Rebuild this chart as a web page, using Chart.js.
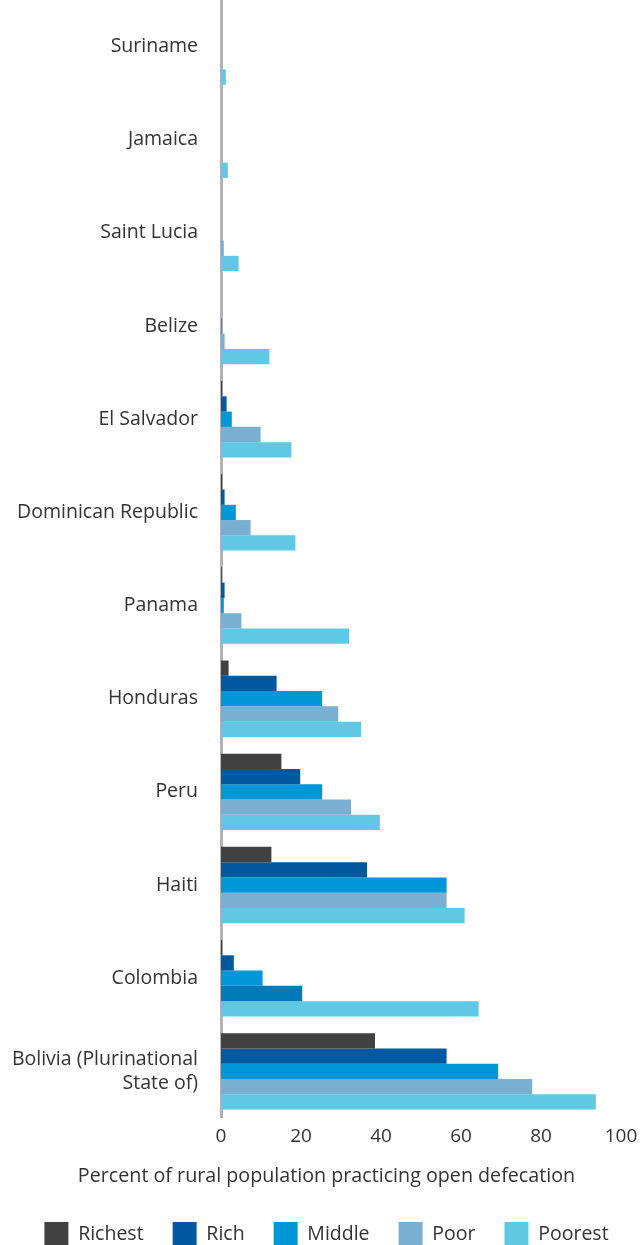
<!DOCTYPE html>
<html>
<head>
<meta charset="utf-8">
<script src="https://cdn.jsdelivr.net/npm/chart.js@4/dist/chart.umd.min.js"></script>
<style>
  html, body { margin: 0; padding: 0; background: #fff; }
  #wrap { width: 643px; height: 1245px; position: relative; }
</style>
</head>
<body>
<div id="wrap"><canvas id="myChart"></canvas></div>
<script>
// countries, top to bottom
var countries = ['Suriname', 'Jamaica', 'Saint Lucia', 'Belize', 'El Salvador', 'Dominican Republic',
    'Panama', 'Honduras', 'Peru', 'Haiti', 'Colombia', ['Bolivia (Plurinational', 'State of)']];

// percent of rural population practicing open defecation, by wealth quintile
var richest = [0, 0, 0, 0, 0.3, 0.3, 0.2, 1.9, 15.1, 12.6, 0.3, 38.5];
var rich    = [0, 0, 0, 0, 1.4, 0.9, 0.9, 13.9, 19.8, 36.5, 3.2, 56.4];
var middle  = [0, 0, 0, 0.2, 2.7, 3.7, 0.7, 25.3, 25.3, 56.4, 10.4, 69.3];
var poor    = [0, 0, 0.7, 0.9, 9.9, 7.4, 5.1, 29.3, 32.5, 56.4, 20.3, 77.8];
var poorest = [1.2, 1.7, 4.4, 12.1, 17.6, 18.6, 32.0, 35.0, 39.7, 60.9, 64.4, 93.7];

var xTicks = [0, 20, 40, 60, 80, 100];

var font = "'Open Sans', sans-serif";
var textColor = '#333333';

// the Colombia "Poor" bar is a darker blue in the original
var poorColors = countries.map(function (c) { return c === 'Colombia' ? '#007bb8' : '#7aafd4'; });

var ctx = document.getElementById('myChart').getContext('2d');
var myChart = new Chart(ctx, {
    type: 'bar',
    data: {
        labels: countries,
        datasets: [
            { label: 'Richest', data: richest, backgroundColor: '#414141' },
            { label: 'Rich', data: rich, backgroundColor: '#00599f' },
            { label: 'Middle', data: middle, backgroundColor: '#0096d7' },
            { label: 'Poor', data: poor, backgroundColor: poorColors },
            { label: 'Poorest', data: poorest, backgroundColor: '#5fc8e3' }
        ]
    },
    options: {
        indexAxis: 'y',
        responsive: true,
        maintainAspectRatio: false,
        animation: false,
        datasets: {
            bar: { categoryPercentage: 0.82, barPercentage: 1.0 }
        },
        layout: { padding: { top: 0, right: 0, bottom: -11, left: 10 } },
        plugins: {
            tooltip: { enabled: false },
            title: {
                display: true,
                position: 'bottom',
                text: 'Percent of rural population practicing open defecation',
                color: textColor,
                font: { family: font, size: 19.7, weight: 'normal' },
                padding: { top: 9.9, bottom: 4.7 }
            },
            legend: {
                position: 'bottom',
                weight: 3000,
                labels: {
                    boxWidth: 24,
                    boxHeight: 24,
                    padding: 29,
                    color: textColor,
                    font: { family: font, size: 19.5 },
                    generateLabels: function (chart) {
                        var items = Chart.defaults.plugins.legend.labels.generateLabels(chart);
                        items.forEach(function (it) {
                            if (it.text === 'Poor') it.fillStyle = '#7aafd4';
                            it.strokeStyle = 'rgba(0,0,0,0)';
                            it.lineWidth = 0;
                        });
                        return items;
                    }
                }
            }
        },
        scales: {
            x: {
                min: 0,
                max: 100,
                afterBuildTicks: function (scale) {
                    scale.ticks = xTicks.map(function (v) { return { value: v }; });
                },
                afterFit: function (scale) { scale.paddingRight = 22; },
                grid: { display: false, drawTicks: false },
                border: { display: false },
                ticks: {
                    padding: 7,
                    maxRotation: 0,
                    color: textColor,
                    font: { family: font, size: 19 }
                }
            },
            y: {
                afterFit: function (scale) {
                    scale.width = 211;
                    scale.paddingTop = 0;
                    scale.paddingBottom = 0;
                },
                grid: { display: false, drawTicks: false },
                border: { display: true, color: '#b2b2b6', width: 3 },
                ticks: {
                    padding: 23,
                    color: textColor,
                    font: { family: font, size: 19.5 },
                    autoSkip: false
                }
            }
        }
    }
});
</script>
</body>
</html>
